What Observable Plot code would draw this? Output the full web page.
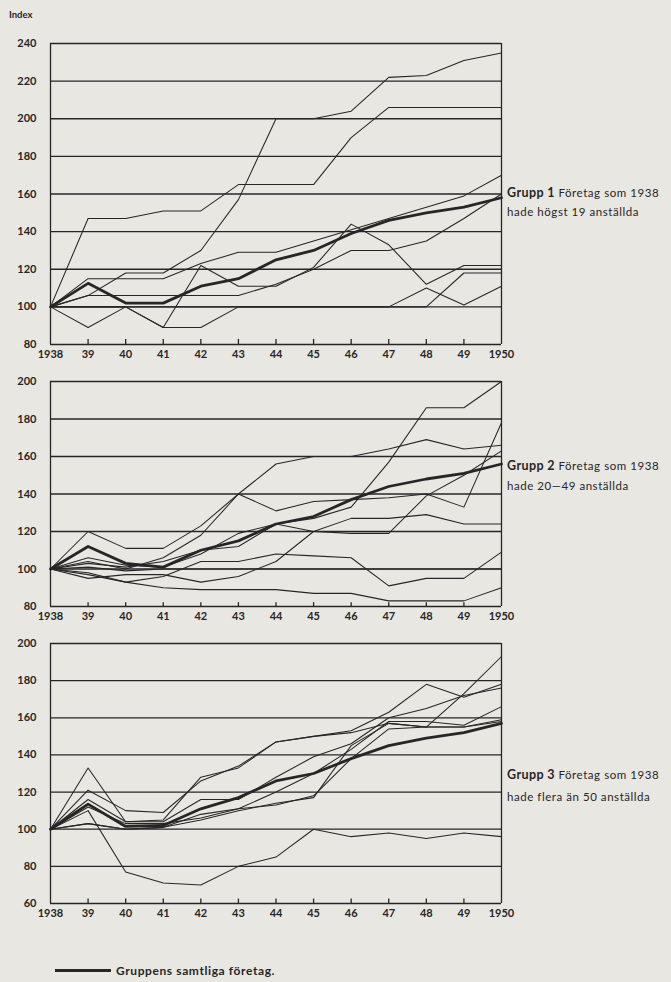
<!DOCTYPE html>
<html>
<head>
<meta charset="utf-8">
<script src="https://cdn.jsdelivr.net/npm/d3@7"></script>
<script src="https://cdn.jsdelivr.net/npm/@observablehq/plot@0.6"></script>
<style>
  html, body { margin: 0; padding: 0; background: #e9e7e2; }
  #page { position: relative; width: 671px; height: 982px; overflow: hidden; background: #e9e7e2;
          font-family: Lato, "DejaVu Sans", sans-serif; color: #262626; }
  .panel { position: absolute; left: 0; }
  .lbl { position: absolute; font-size: 11.5px; white-space: nowrap; line-height: 14px; letter-spacing: 0.55px; }
  .lbl b { font-weight: 700; font-size: 12.5px; letter-spacing: 0.4px; }
</style>
</head>
<body>
<div id="page">
  <div class="lbl" style="left:9px; top:8px; font-size:9.5px; font-weight:700; letter-spacing:0;">Index</div>
  <div class="lbl" style="left:507px; top:186px;"><b>Grupp 1</b> Företag som 1938</div>
  <div class="lbl" style="left:507px; top:205px;">hade högst 19 anställda</div>
  <div class="lbl" style="left:507px; top:459px;"><b>Grupp 2</b> Företag som 1938</div>
  <div class="lbl" style="left:507px; top:479px;">hade 20—49 anställda</div>
  <div class="lbl" style="left:507px; top:768px;"><b>Grupp 3</b> Företag som 1938</div>
  <div class="lbl" style="left:507px; top:790px;">hade flera än 50 anställda</div>
  <div id="legend" style="position:absolute; left:55px; top:963px; display:flex; align-items:center;">
    <span style="display:inline-block; width:56px; height:3px; background:#262626;"></span>
    <span style="font-size:12px; font-weight:700; margin-left:5px; letter-spacing:0.6px;">Gruppens samtliga företag.</span>
  </div>
</div>
<script>
// ---- data ----
const years = [1938,1939,1940,1941,1942,1943,1944,1945,1946,1947,1948,1949,1950];
const yearLabels = ["1938","39","40","41","42","43","44","45","46","47","48","49","1950"];

// Grupp 1 (högst 19 anställda)
const g1Ticks = [80,100,120,140,160,180,200,220,240];
const g1Total = [100,112.5,102,102,111,115,125,130,139,146,150,153,158];
const g1Firms = [
  [100,147,147,151,151,165,165,165,190,206,206,206,206],
  [100,106,118,118,130,157,200,200,204,222,223,231,235],
  [100,115,115,115,123,129,129,135,141,147,153,159,170],
  [100,100,100,89,122,111,111,121,144,133,112,122,122],
  [100,89,100,89,89,100,100,100,100,100,110,101,111],
  [100,106,106,106,106,106,112,120,130,130,135,147,160],
  [100,100,100,100,100,100,100,100,100,100,100,118,118]
];

// Grupp 2 (20—49 anställda)
const g2Ticks = [80,100,120,140,160,180,200];
const g2Total = [100,112,103,101,110,115,124,128,137,144,148,151,156];
const g2Firms = [
  [100,103,101,104,110,112,124,127,133,157,186,186,200],
  [100,120,111,111,123,140,131,136,137,138,140,133,178],
  [100,104,100,106,118,140,156,160,160,164,169,164,166],
  [100,106,102,101,108,119,124,120,119,119,139,150,163],
  [100,95,97,97,93,96,104,120,127,127,129,124,124],
  [100,98,93,96,104,104,108,107,106,91,95,95,109],
  [100,97,93,90,89,89,89,87,87,83,83,83,90],
  [100,101,99,100,100,100,100,100,100,100,100,100,100]
];

// Grupp 3 (flera än 50 anställda)
const g3Ticks = [60,80,100,120,140,160,180,200];
const g3Total = [100,113.5,101.5,102,111,117,126,130,138,145,149,152,157];
const g3Firms = [
  [100,133,104,105,128,133,147,150,152,157,155,155,158],
  [100,121,110,109,126,134,147,150,153,163,178,171,178],
  [100,116,104,104,116,116,128,139,146,160,165,172,176],
  [100,103,100,101,105,110,114,117,145,157,155,173,193],
  [100,103,100,101,108,111,120,130,143,158,158,156,166],
  [100,112,103,103,106,111,113,118,138,154,155,155,159],
  [100,110,77,71,70,80,85,100,96,98,95,98,96]
];

// ---- drawing ----
const ink = "#262626";
function toRows(firms) {
  return firms.flatMap((s, i) => s.map((v, j) => ({series: i, year: years[j], value: v})));
}
function panel({ticks, total, firms, top, height}) {
  const yMin = ticks[0], yMax = ticks[ticks.length - 1];
  const rows = toRows(firms);
  const totalRows = total.map((v, j) => ({year: years[j], value: v}));
  const chart = Plot.plot({
    width: 671,
    height,
    marginLeft: 50,
    marginRight: 170,
    marginTop: 10,
    marginBottom: 25,
    style: {background: "transparent", fontFamily: "Lato, 'DejaVu Sans', sans-serif", fontSize: "11px", color: ink, fontWeight: 700},
    x: {domain: [1938, 1950], ticks: years, tickFormat: (d) => yearLabels[years.indexOf(d)], tickSize: 0, tickPadding: 6, label: null},
    y: {domain: [yMin, yMax], ticks: ticks, tickSize: 0, tickPadding: 14, label: null},
    marks: [
      Plot.ruleY(ticks, {stroke: ink, strokeWidth: 1.3}),
      Plot.ruleX([1938, 1950], {stroke: ink, strokeWidth: 1.3}),
      Plot.ruleX(years.slice(1, -1), {y1: yMin, y2: yMin + (yMax - yMin) * 0.017, stroke: ink, strokeWidth: 1.3}),
      Plot.line(rows, {x: "year", y: "value", z: "series", stroke: ink, strokeWidth: 1.05}),
      Plot.line(totalRows, {x: "year", y: "value", stroke: ink, strokeWidth: 2.8})
    ]
  });
  chart.classList.add("panel");
  chart.style.top = top + "px";
  document.getElementById("page").appendChild(chart);
}
panel({ticks: g1Ticks, total: g1Total, firms: g1Firms, top: 33, height: 336});
panel({ticks: g2Ticks, total: g2Total, firms: g2Firms, top: 371, height: 260});
panel({ticks: g3Ticks, total: g3Total, firms: g3Firms, top: 633, height: 295});
</script>
</body>
</html>
